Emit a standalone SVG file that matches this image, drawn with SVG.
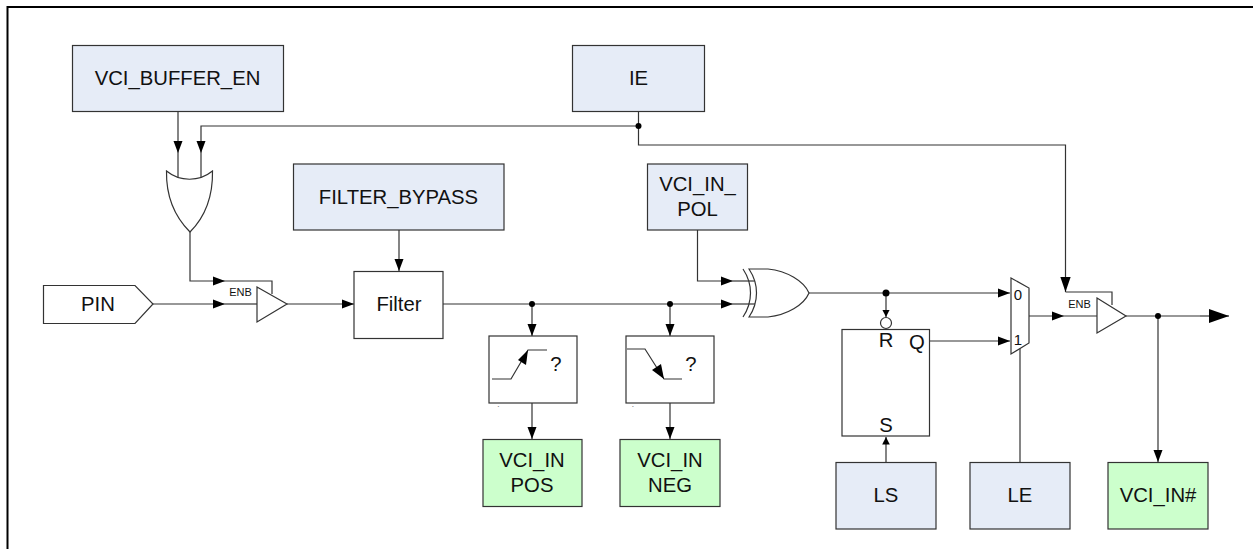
<svg xmlns="http://www.w3.org/2000/svg" width="1253" height="549" viewBox="0 0 1253 549">
<defs>
<marker id="a" markerUnits="userSpaceOnUse" markerWidth="13" markerHeight="10" refX="12" refY="5" orient="auto"><path d="M0 0.500L12 5L0 9.500Z" fill="#000"/></marker>
<marker id="s" markerUnits="userSpaceOnUse" markerWidth="8" markerHeight="8" refX="7.500" refY="4" orient="auto"><path d="M0 0.200L7.500 4L0 7.800Z" fill="#000"/></marker>
<marker id="m" markerUnits="userSpaceOnUse" markerWidth="16" markerHeight="11" refX="15.500" refY="5.500" orient="auto"><path d="M0 0.200L15.500 5.500L0 10.800Z" fill="#000"/></marker>
<marker id="b" markerUnits="userSpaceOnUse" markerWidth="21" markerHeight="15" refX="20" refY="7.500" orient="auto"><path d="M0 0.500L20 7.500L0 14.500Z" fill="#000"/></marker>
</defs>
<style>
.w{fill:none;stroke:#333;stroke-width:1.2}
.s{fill:#fff;stroke:#333;stroke-width:1.2}
.blue{fill:#e6ecf7;stroke:#333;stroke-width:1.2}
.green{fill:#ccffcc;stroke:#333;stroke-width:1.2}
text{font-family:"Liberation Sans",Arial,sans-serif;font-size:20.3px;fill:#111;text-anchor:middle}
.sm{font-size:11px}
.arr{marker-end:url(#a)}
.ars{marker-end:url(#s)}
.d{fill:#000}
</style>
<rect width="1253" height="549" fill="#fff"/>
<path d="M7.500 549V7H1253" fill="none" stroke="#000" stroke-width="2"/>
<g id="connectors">
<path class="w arr" d="M178 111V153"/>
<path class="w" d="M178 153V178"/>
<path class="w arr" d="M638.500 126H201V153"/>
<path class="w" d="M201 153V178"/>
<path class="w" d="M638.500 111V145H1065.500V270"/>
<path class="w" style="marker-end:url(#m)" d="M1065.500 270V292"/>
<path class="w" d="M1065.500 292H1112V305"/>
<path class="w arr" d="M190 232V281H225"/>
<path class="w" d="M225 281H272V294"/>
<path class="w arr" d="M153 304H225"/>
<path class="w" d="M225 304H257"/>
<path class="w arr" d="M287 304H354"/>
<path class="w arr" d="M399 230V271"/>
<path class="w arr" d="M443 304H733"/>
<path class="w" d="M733 304H755"/>
<path class="w arr" d="M697.500 230V281H733"/>
<path class="w" d="M733 281H755"/>
<path class="w arr" d="M809 293H1010"/>
<path class="w ars" d="M886 293V317"/>
<path class="w arr" d="M929 341H1010"/>
<path class="w arr" d="M532 304V336"/>
<path class="w arr" d="M670 304V336"/>
<path class="w arr" d="M532 403V439"/>
<path class="w arr" d="M670 403V439"/>
<path class="w ars" d="M886 462V437"/>
<path class="w" d="M1020 349V462"/>
<path class="w arr" d="M1029 316H1064"/>
<path class="w" d="M1064 316H1097"/>
<path class="w" d="M1126 316H1200"/>
<path class="w" style="marker-end:url(#b)" d="M1200 316H1229"/>
<path class="w arr" d="M1158 316V462"/>
<circle class="d" cx="638.500" cy="126" r="3"/>
<circle class="d" cx="532" cy="304" r="3"/>
<circle class="d" cx="670" cy="304" r="3"/>
<circle class="d" cx="886" cy="293" r="3.500"/>
<circle class="d" cx="1158" cy="316" r="3"/>
</g>
<g id="vci-buffer-en"><rect class="blue" x="72.500" y="45.500" width="211" height="66"/><text x="177.500" y="85">VCI_BUFFER_EN</text></g>
<g id="ie"><rect class="blue" x="572.500" y="45.500" width="132" height="66"/><text x="638.500" y="85">IE</text></g>
<g id="filter-bypass"><rect class="blue" x="293.500" y="164" width="210.500" height="66"/><text x="398.500" y="204">FILTER_BYPASS</text></g>
<g id="vci-in-pol"><rect class="blue" x="647.500" y="164" width="100" height="66"/><text x="697.500" y="190.500">VCI_IN_</text><text x="697.500" y="216">POL</text></g>
<g id="or-gate"><path class="s" d="M166.500 171C180 182 199 182 212.500 171C213 198 204 218 190 232C176 218 166 198 166.500 171Z"/></g>
<g id="pin"><path class="s" d="M43.500 285.500H135L153 304L135 323.500H43.500Z"/><text x="98" y="311">PIN</text></g>
<g id="buffer-1"><path class="s" d="M257 287L287 304L257 322Z"/><text class="sm" x="240.500" y="296">ENB</text></g>
<g id="filter"><rect class="s" x="354" y="271.500" width="89" height="67"/><text x="399" y="311">Filter</text></g>
<g id="xor-gate"><path class="w" d="M743 269C753 284 753 302 743 317"/><path class="s" d="M749 269H768C787 271 804 281 809 293C804 305 787 315 768 317H749C759 302 759 284 749 269Z"/></g>
<g id="edge-pos"><rect class="s" x="489" y="336" width="88" height="67"/><path class="w" d="M492 379H511L528 350H547"/><path d="M528 350L526 365L518 360Z" fill="#000"/><text x="556" y="371">?</text><text x="498.500" y="411" style="font-size:7px">`</text></g>
<g id="edge-neg"><rect class="s" x="626" y="336" width="88" height="67"/><path class="w" d="M627 349H645L664 379H682"/><path d="M664 379L652 370L661 364Z" fill="#000"/><text x="691" y="371">?</text><text x="633" y="411" style="font-size:7px">`</text></g>
<g id="vci-in-pos"><rect class="green" x="483" y="439.500" width="99" height="67"/><text x="532" y="467">VCI_IN</text><text x="532" y="492">POS</text></g>
<g id="vci-in-neg"><rect class="green" x="620" y="439.500" width="100" height="67"/><text x="670" y="467">VCI_IN</text><text x="670" y="492">NEG</text></g>
<g id="latch"><rect class="s" x="842" y="329.500" width="87.500" height="106.500"/><circle class="s" cx="886" cy="323" r="5.500"/><text x="886" y="347">R</text><text x="917" y="349">Q</text><text x="886" y="432">S</text></g>
<g id="mux"><path class="s" d="M1011 278L1029 288V343L1011 354Z"/><text x="1018" y="300" style="font-size:15px">0</text><text x="1018" y="345" style="font-size:15px">1</text></g>
<g id="buffer-2"><path class="s" d="M1097 298L1126 316L1097 333Z"/><text class="sm" x="1079.500" y="308">ENB</text></g>
<g id="ls"><rect class="blue" x="836" y="462.500" width="100" height="66.500"/><text x="886" y="502">LS</text></g>
<g id="le"><rect class="blue" x="970" y="462.500" width="100" height="66.500"/><text x="1020" y="502">LE</text></g>
<g id="vci-in-hash"><rect class="green" x="1108" y="462.500" width="100" height="66.500"/><text x="1158" y="502">VCI_IN#</text></g>
</svg>
